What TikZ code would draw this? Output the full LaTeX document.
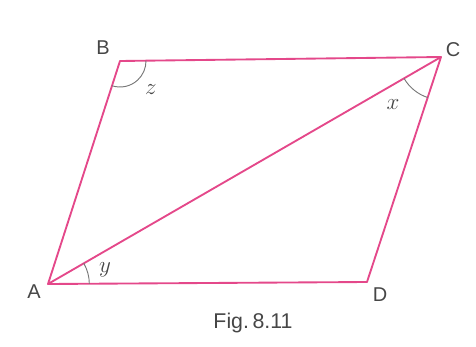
\documentclass[tikz,border=0pt]{standalone}
\usepackage{fontspec}
\setmainfont{Liberation Sans}
\usetikzlibrary{angles}
\definecolor{sidepink}{RGB}{228,72,138}
\definecolor{labelgrey}{RGB}{70,70,70}
\definecolor{arcgrey}{RGB}{120,120,120}
\begin{document}
\begin{tikzpicture}[x=0.75pt, y=-0.75pt]
    \useasboundingbox (0,0) rectangle (476,347);
    % Vertici
    \coordinate (A) at (48,284);
    \coordinate (B) at (120,61);
    \coordinate (C) at (441,57);
    \coordinate (D) at (367,282);
    % Lati e diagonale
    \draw[sidepink, line width=1.4pt, line join=round] (A) -- (B) -- (C) -- (D) -- cycle;
    \draw[sidepink, line width=1.4pt] (A) -- (C);
    % Angoli
    \pic[draw=arcgrey, line width=0.7pt, angle radius=19.5pt] {angle = A--B--C};
    \pic[draw=arcgrey, line width=0.7pt, angle radius=32pt] {angle = A--C--D};
    \pic[draw=arcgrey, line width=0.7pt, angle radius=31pt] {angle = D--A--C};
    % Nomi dei vertici
    \node[text=labelgrey, font=\fontsize{15}{17}\selectfont] (labA) at (34,292) {A};
    \node[text=labelgrey, font=\fontsize{15}{17}\selectfont] (labB) at (103,48) {B};
    \node[text=labelgrey, font=\fontsize{15}{17}\selectfont] (labC) at (453,50) {C};
    \node[text=labelgrey, font=\fontsize{15}{17}\selectfont] (labD) at (380,295) {D};
    % Etichette degli angoli
    \node[text=labelgrey, font=\fontsize{17}{19}\selectfont] (angz) at (151,90) {$z$};
    \node[text=labelgrey, font=\fontsize{17}{19}\selectfont] (angx) at (393,105) {$x$};
    \node[text=labelgrey, font=\fontsize{17}{19}\selectfont] (angy) at (105,270) {$y$};
    % Didascalia
    \node[text=labelgrey, font=\fontsize{16}{18}\selectfont] (caption) at (253,323) {Fig.\,8.11};
\end{tikzpicture}
\end{document}
